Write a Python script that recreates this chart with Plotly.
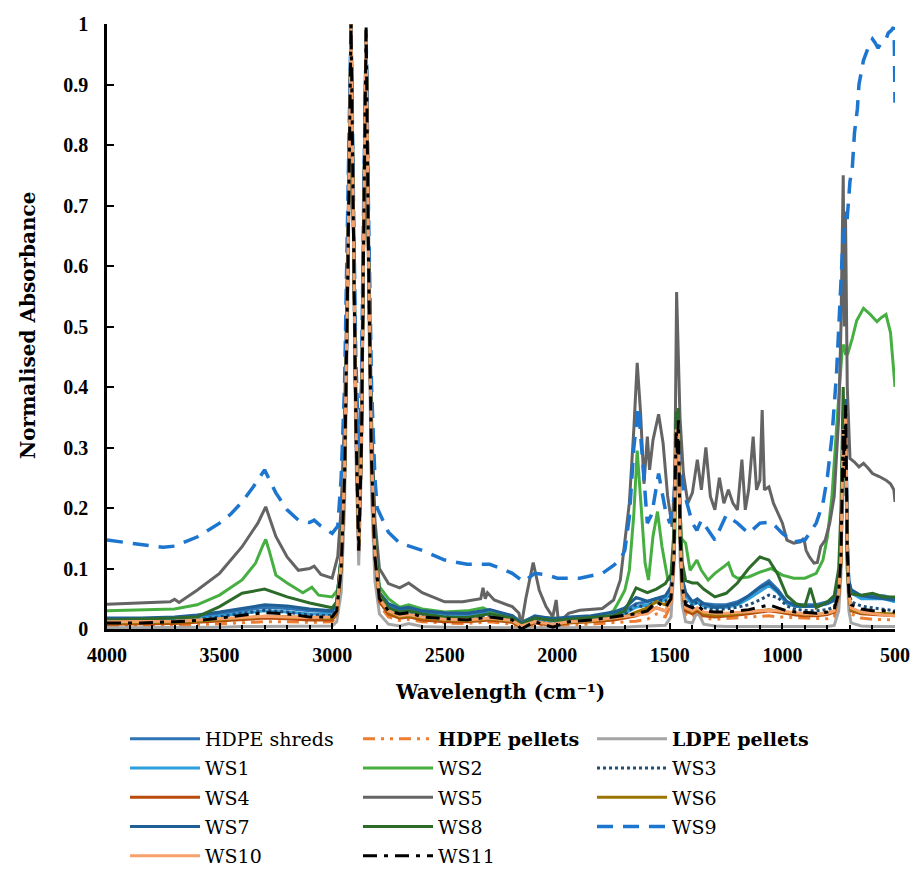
import plotly.graph_objects as go

# ---------------- data ----------------
# common wavenumber grid for the PE-like spectra
W_PE = [4000, 3850, 3700, 3600, 3500, 3400, 3300, 3200, 3100, 3000,
        2980, 2960, 2945, 2930, 2916, 2905, 2895, 2882, 2870, 2860,
        2849, 2838, 2825, 2810, 2790, 2750, 2700, 2660, 2600, 2500,
        2400, 2300, 2200, 2160, 2100, 2020, 1950, 1850, 1750, 1700,
        1650, 1600, 1560, 1520, 1495, 1482, 1472, 1467, 1462, 1455,
        1445, 1430, 1400, 1378, 1350, 1300, 1250, 1200, 1150, 1100,
        1060, 1020, 980, 940, 900, 876, 850, 800, 770, 750,
        740, 730, 725, 719, 712, 705, 695, 650, 600, 550, 500]

HDPE_SHREDS = [.015, .016, .018, .020, .025, .031, .036, .034, .030, .028,
               .040, .11, .26, .61, 1.0, .66, .36, .15, .31, .66,
               .99, .61, .30, .14, .06, .04, .03, .032, .028, .025,
               .024, .03, .02, .008, .02, .015, .018, .02, .025, .03,
               .042, .045, .05, .052, .065, .13, .34, .30, .35, .17,
               .08, .06, .045, .048, .042, .04, .04, .045, .055, .07,
               .08, .065, .045, .04, .04, .04, .04, .045, .05, .08,
               .14, .35, .27, .37, .15, .08, .065, .055, .055, .055, .05]

HDPE_PELLETS = [.005, .005, .006, .007, .009, .011, .012, .012, .011, .012,
                .02, .09, .24, .58, .99, .64, .34, .12, .29, .64,
                .985, .58, .27, .11, .04, .02, .014, .016, .012, .010,
                .009, .012, .008, .0, .006, .004, .007, .008, .010, .011,
                .013, .016, .025, .02, .04, .11, .32, .28, .33, .15,
                .06, .025, .02, .025, .018, .016, .017, .019, .02, .021,
                .022, .02, .02, .019, .018, .018, .017, .017, .02, .05,
                .11, .32, .24, .35, .12, .05, .025, .018, .016, .015, .015]

LDPE_PELLETS = [.002, .002, .002, .003, .003, .004, .004, .004, .004, .005,
                .012, .06, .20, .55, 1.0, .62, .30, .105, .27, .62,
                .98, .55, .22, .08, .025, .008, .005, .009, .004, .003,
                .003, .003, .002, .0, .002, .002, .002, .002, .003, .003,
                .004, .005, .006, .006, .02, .10, .30, .26, .31, .12,
                .04, .012, .01, .03, .008, .005, .004, .004, .004, .004,
                .004, .004, .004, .004, .004, .004, .004, .004, .006, .03,
                .09, .30, .22, .32, .10, .03, .01, .005, .004, .004, .004]

WS1 = [.012, .013, .015, .017, .021, .026, .030, .028, .025, .024,
       .035, .10, .25, .60, 1.0, .65, .35, .14, .30, .65,
       .99, .60, .29, .13, .055, .035, .026, .028, .024, .021,
       .02, .026, .018, .006, .017, .013, .015, .017, .022, .026,
       .036, .04, .045, .048, .06, .12, .33, .29, .34, .16,
       .075, .055, .04, .044, .038, .035, .036, .04, .05, .062,
       .072, .06, .042, .037, .037, .037, .037, .042, .047, .075,
       .13, .34, .26, .36, .14, .075, .06, .05, .05, .05, .045]

WS3 = [.010, .011, .013, .016, .020, .026, .031, .028, .023, .022,
       .032, .10, .25, .60, 1.0, .65, .35, .13, .30, .65,
       .99, .60, .28, .12, .05, .032, .026, .028, .023, .02,
       .018, .022, .016, .003, .015, .008, .014, .016, .02, .024,
       .04, .035, .05, .045, .055, .12, .33, .29, .34, .16,
       .07, .045, .038, .045, .035, .032, .033, .036, .04, .048,
       .056, .052, .038, .032, .03, .03, .03, .032, .036, .065,
       .12, .34, .26, .36, .13, .065, .045, .038, .035, .033, .03]

WS4 = [.008, .008, .009, .011, .013, .016, .018, .017, .015, .015,
       .025, .10, .25, .60, .99, .65, .35, .13, .30, .65,
       .985, .60, .28, .12, .045, .025, .018, .02, .015, .012,
       .012, .015, .011, .003, .01, .006, .01, .012, .015, .018,
       .022, .03, .035, .03, .045, .12, .33, .29, .34, .16,
       .065, .03, .025, .03, .022, .02, .021, .023, .025, .028,
       .03, .028, .025, .023, .022, .022, .022, .024, .028, .055,
       .11, .33, .25, .36, .12, .055, .03, .025, .024, .023, .022]

WS6 = [.010, .010, .011, .013, .015, .018, .021, .020, .018, .018,
       .028, .10, .25, .60, .99, .65, .36, .14, .30, .65,
       .985, .60, .28, .12, .05, .028, .02, .022, .018, .015,
       .014, .017, .013, .004, .012, .007, .011, .013, .017, .02,
       .028, .035, .045, .04, .05, .12, .33, .29, .34, .16,
       .065, .035, .028, .034, .025, .023, .023, .025, .027, .03,
       .032, .03, .027, .025, .024, .024, .024, .026, .03, .058,
       .11, .33, .25, .36, .12, .055, .032, .027, .026, .025, .025]

WS7 = [.018, .018, .020, .023, .028, .034, .040, .038, .033, .030,
       .045, .12, .27, .62, 1.0, .67, .37, .15, .32, .67,
       .99, .62, .31, .15, .06, .042, .034, .036, .03, .027,
       .026, .032, .022, .01, .022, .017, .02, .022, .028, .035,
       .052, .046, .05, .055, .07, .13, .34, .30, .35, .17,
       .085, .06, .045, .05, .042, .036, .038, .042, .055, .068,
       .076, .062, .045, .038, .037, .037, .038, .042, .048, .08,
       .14, .36, .27, .38, .15, .08, .065, .055, .052, .05, .048]

WS8 = [.015, .016, .018, .020, .037, .059, .066, .053, .043, .035,
       .045, .12, .27, .62, 1.0, .66, .37, .15, .32, .67,
       .99, .62, .31, .15, .06, .035, .028, .03, .025, .02,
       .019, .025, .018, .008, .018, .014, .016, .018, .022, .03,
       .068, .06, .066, .075, .09, .16, .36, .32, .365, .20,
       .11, .08, .076, .076, .066, .053, .059, .076, .10, .119,
       .114, .09, .055, .042, .038, .068, .035, .045, .055, .10,
       .20, .40, .30, .30, .10, .065, .058, .056, .059, .053, .053]

WS10 = [.012, .012, .013, .015, .017, .019, .021, .020, .019, .020,
        .03, .11, .26, .61, 1.0, .66, .36, .14, .31, .66,
        .99, .61, .29, .13, .05, .03, .022, .024, .02, .016,
        .015, .018, .014, .005, .012, .008, .012, .014, .018, .02,
        .022, .025, .035, .03, .045, .12, .33, .29, .34, .16,
        .07, .035, .03, .035, .028, .026, .026, .027, .028, .03,
        .031, .03, .028, .026, .025, .025, .024, .026, .03, .06,
        .12, .33, .25, .36, .13, .06, .035, .028, .025, .023, .022]

WS11 = [.010, .010, .012, .014, .018, .023, .027, .025, .020, .020,
        .03, .10, .25, .60, 1.0, .65, .35, .13, .30, .65,
        .995, .60, .28, .12, .05, .03, .025, .027, .02, .017,
        .015, .02, .015, .0, .012, .003, .012, .015, .02, .022,
        .025, .03, .045, .035, .05, .12, .33, .29, .345, .16,
        .07, .04, .035, .04, .03, .028, .028, .03, .032, .036,
        .04, .035, .03, .028, .028, .027, .026, .028, .032, .06,
        .12, .33, .25, .37, .13, .06, .04, .033, .03, .03, .028]

W_WS2 = [4000, 3700, 3600, 3500, 3400, 3340, 3310, 3295, 3280, 3250,
         3200, 3130, 3090, 3060, 3000, 2975, 2960, 2945, 2930, 2916,
         2905, 2895, 2882, 2870, 2860, 2849, 2838, 2825, 2810, 2790,
         2750, 2700, 2660, 2600, 2500, 2400, 2330, 2300, 2200, 2160,
         2100, 2000, 1900, 1800, 1750, 1720, 1700, 1680, 1660, 1645,
         1630, 1610, 1595, 1575, 1555, 1535, 1510, 1490, 1478, 1470,
         1462, 1450, 1430, 1410, 1380, 1360, 1330, 1300, 1260, 1240,
         1220, 1200, 1150, 1100, 1050, 1000, 950, 900, 850, 820,
         800, 780, 760, 745, 735, 728, 720, 710, 690, 670,
         640, 610, 580, 560, 540, 520, 500]
WS2 = [.030, .033, .040, .056, .081, .109, .136, .148, .130, .089,
       .076, .060, .069, .056, .053, .065, .12, .27, .61, 1.0,
       .67, .37, .16, .32, .67, .99, .62, .31, .15, .07,
       .05, .036, .04, .033, .028, .03, .035, .03, .022, .012,
       .02, .018, .016, .02, .03, .05, .064, .097, .19, .295,
       .219, .109, .081, .153, .194, .136, .084, .08, .15, .36,
       .30, .15, .142, .097, .114, .097, .081, .092, .103, .109,
       .089, .084, .086, .094, .10, .089, .084, .084, .092, .114,
       .153, .219, .33, .42, .46, .47, .455, .455, .48, .51,
       .53, .52, .508, .515, .52, .49, .40]

W_WS5 = [4000, 3720, 3700, 3680, 3600, 3500, 3400, 3330, 3295, 3250,
         3200, 3150, 3100, 3080, 3050, 3000, 2975, 2960, 2945, 2930,
         2916, 2905, 2895, 2882, 2870, 2860, 2849, 2838, 2825, 2810,
         2790, 2750, 2700, 2660, 2600, 2500, 2420, 2340, 2330, 2320,
         2310, 2280, 2200, 2170, 2160, 2140, 2107, 2080, 2050, 2020,
         2005, 1995, 1980, 1950, 1900, 1800, 1750, 1720, 1700, 1680,
         1660, 1645, 1630, 1615, 1600, 1590, 1575, 1550, 1530, 1510,
         1490, 1478, 1470, 1462, 1455, 1440, 1420, 1400, 1378, 1360,
         1340, 1320, 1300, 1280, 1260, 1240, 1220, 1200, 1180, 1165,
         1150, 1130, 1115, 1100, 1090, 1080, 1060, 1040, 1000, 980,
         950, 920, 905, 895, 880, 860, 845, 830, 810, 790,
         770, 750, 740, 730, 725, 720, 712, 700, 680, 660,
         640, 620, 600, 570, 540, 520, 505, 500]
WS5 = [.041, .045, .049, .044, .064, .092, .136, .175, .202, .153,
       .119, .097, .100, .104, .090, .084, .12, .20, .35, .65,
       1.0, .68, .40, .20, .36, .70, .99, .65, .35, .18,
       .10, .075, .068, .076, .060, .045, .045, .05, .068, .05,
       .06, .048, .037, .026, .005, .05, .11, .064, .037, .02,
       .048, .012, .015, .026, .031, .034, .048, .081, .142, .208,
       .33, .44, .357, .24, .318, .263, .312, .355, .307, .22,
       .169, .25, .557, .45, .35, .257, .208, .225, .28, .23,
       .30, .219, .197, .25, .208, .23, .208, .197, .28, .197,
       .23, .318, .23, .246, .362, .23, .235, .208, .175, .147,
       .142, .144, .15, .13, .119, .109, .11, .136, .147, .175,
       .219, .35, .50, .75, .50, .69, .40, .282, .276, .268,
       .274, .266, .257, .252, .246, .24, .23, .21]

W_WS9 = [4000, 3900, 3800, 3750, 3700, 3600, 3500, 3450, 3400, 3350,
         3300, 3250, 3200, 3150, 3100, 3080, 3050, 3000, 2975, 2960,
         2945, 2930, 2916, 2905, 2895, 2882, 2870, 2860, 2849, 2838,
         2825, 2810, 2800, 2750, 2700, 2600, 2500, 2400, 2300, 2250,
         2200, 2150, 2100, 2050, 2000, 1900, 1800, 1750, 1720, 1700,
         1680, 1660, 1640, 1620, 1600, 1580, 1550, 1520, 1500, 1480,
         1470, 1462, 1440, 1400, 1380, 1360, 1300, 1250, 1200, 1150,
         1100, 1050, 1000, 950, 900, 850, 820, 800, 780, 760,
         745, 734, 720, 712, 700, 690, 680, 667, 660, 640,
         620, 600, 590, 575, 560, 540, 530, 515, 507, 503, 500]
WS9 = [.147, .142, .137, .135, .137, .152, .175, .19, .21, .235,
       .263, .225, .197, .18, .176, .18, .17, .158, .17, .25,
       .40, .70, 1.0, .70, .45, .30, .40, .70, .98, .68,
       .40, .25, .20, .16, .142, .13, .114, .107, .107, .10,
       .092, .078, .092, .09, .084, .084, .092, .105, .115, .13,
       .185, .30, .367, .274, .175, .19, .257, .197, .175, .22,
       .318, .30, .23, .175, .163, .18, .147, .188, .175, .158,
       .175, .177, .158, .144, .147, .175, .208, .252, .318, .42,
       .55, .62, .68, .68, .74, .76, .82, .86, .90, .94,
       .96, .975, .97, .96, .97, .975, .985, .99, .995, .97, .87]

SERIES = [
    ("HDPE shreds", W_PE, HDPE_SHREDS, "#2E75B6", "solid", 3),
    ("<b>HDPE pellets</b>", W_PE, HDPE_PELLETS, "#ED7D31", "12px,6px,3px,6px,3px,6px", 3),
    ("<b>LDPE pellets</b>", W_PE, LDPE_PELLETS, "#A5A5A5", "solid", 3),
    ("WS1", W_PE, WS1, "#2E9FDD", "solid", 3),
    ("WS2", W_WS2, WS2, "#47AF42", "solid", 3),
    ("WS3", W_PE, WS3, "#1F4E79", "3px,3px", 3),
    ("WS4", W_PE, WS4, "#B84A0C", "solid", 3),
    ("WS5", W_WS5, WS5, "#646464", "solid", 3),
    ("WS6", W_PE, WS6, "#9C7500", "solid", 3),
    ("WS7", W_PE, WS7, "#1F5F96", "solid", 3),
    ("WS8", W_PE, WS8, "#2D6B2A", "solid", 3),
    ("WS9", W_WS9, WS9, "#1C75CF", "16px,10px", 3.5),
    ("WS10", W_PE, WS10, "#F7A06A", "solid", 3),
    ("WS11", W_PE, WS11, "#000000", "14px,7px,4px,7px", 3),
]

X_TICKS = [4000, 3500, 3000, 2500, 2000, 1500, 1000, 500]

# legend columns (row-wise order like the original)
LEGEND_OF = {}
for i, s in enumerate(SERIES):
    LEGEND_OF[s[0]] = ["legend", "legend2", "legend3"][i % 3]

FONT = "Liberation Serif"
LFONT = "DejaVu Serif"

fig = go.Figure()
for name, xs, ys, color, dash, width in SERIES:
    fig.add_trace(go.Scatter(
        x=xs, y=ys, mode="lines", name=name, legendgroup=name,
        line=dict(color=color, width=width, dash=dash),
        legend=LEGEND_OF[name],
    ))

legend_common = dict(
    xref="container", yref="container", yanchor="top", xanchor="left",
    orientation="v", bgcolor="rgba(0,0,0,0)", borderwidth=0,
    font=dict(family=LFONT, size=19, color="#000000"),
    tracegroupgap=1.5, itemwidth=70,
)
legend_top = 1 - 720 / 869

fig.update_layout(
    width=911, height=869,
    margin=dict(l=107, r=16, t=24, b=240, autoexpand=False),
    paper_bgcolor="white", plot_bgcolor="white",
    showlegend=True,
    legend=dict(legend_common, x=125 / 911, y=legend_top),
    legend2=dict(legend_common, x=358 / 911, y=legend_top),
    legend3=dict(legend_common, x=592 / 911, y=legend_top),
    xaxis=dict(
        range=[4000, 500], tickvals=X_TICKS,
        showline=True, linecolor="black", linewidth=2.5,
        ticks="inside", ticklen=6, tickwidth=2, tickcolor="black",
        minor=dict(ticks="inside", ticklen=4, tickwidth=2, dtick=100, tickcolor="black", showgrid=False),
        showgrid=False, zeroline=False, tickangle=0,
        tickfont=dict(family=FONT, size=20, color="black", weight="bold"),
        ticklabelstandoff=6,
    ),
    yaxis=dict(
        range=[0, 1], dtick=0.1,
        showline=True, linecolor="black", linewidth=2.5,
        ticks="inside", ticklen=7, tickwidth=2, tickcolor="black",
        showgrid=False, zeroline=False,
        tickfont=dict(family=FONT, size=20, color="black", weight="bold"),
        ticklabelstandoff=12,
    ),
    annotations=[
        dict(text="Wavelength (cm⁻¹)", xref="paper", yref="paper",
             x=(500 - 107) / 788, y=(629 - 692) / 605, xanchor="center", yanchor="middle",
             showarrow=False,
             font=dict(family=LFONT, size=20, color="black", weight="bold")),
        dict(text="Normalised Absorbance", xref="paper", yref="paper",
             x=(28 - 107) / 788, y=(629 - 326) / 605, xanchor="center", yanchor="middle",
             textangle=-90, showarrow=False,
             font=dict(family=LFONT, size=20, color="black", weight="bold")),
    ],
)

fig.write_html("out.html")
